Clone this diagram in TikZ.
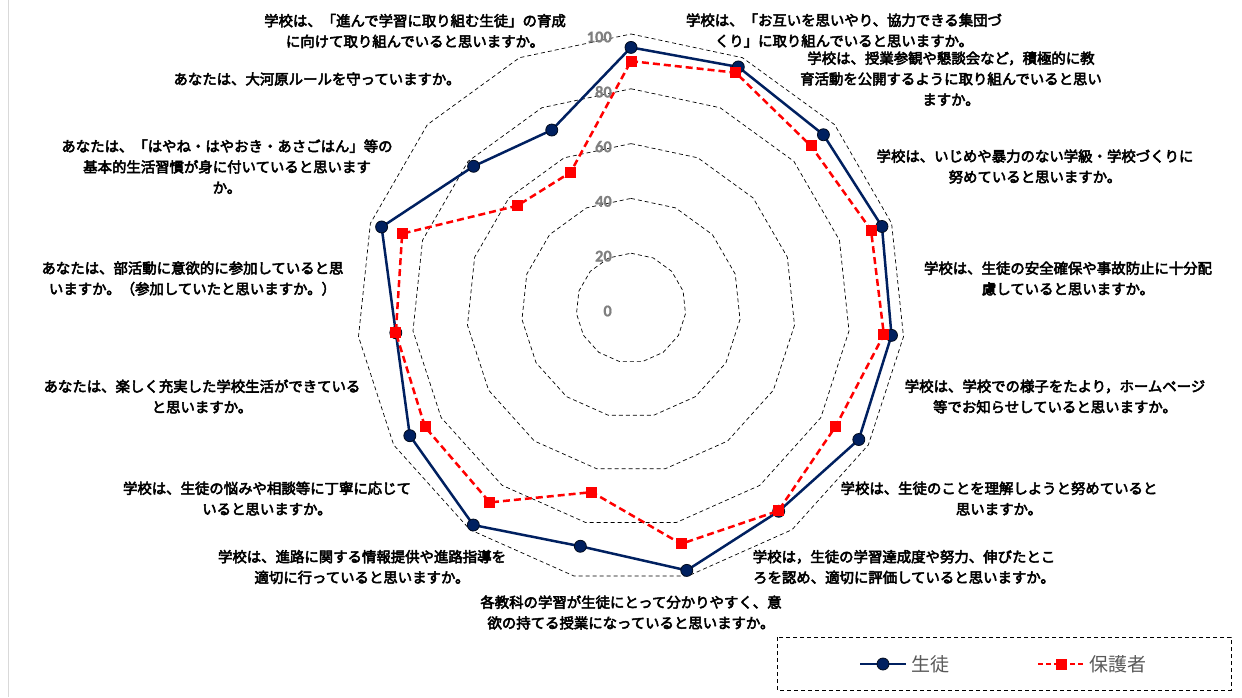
\documentclass[tikz,border=0pt]{standalone}
\usepackage{fontspec}
\newfontfamily\jp{Noto Sans CJK JP}[AutoFakeBold=3.5,BoldFeatures={FakeBold=2}]
\newfontfamily\num{Carlito}[BoldFeatures={FakeBold=0.8}]
\definecolor{navy}{HTML}{002060}
\definecolor{axgray}{HTML}{7F7F7F}
\definecolor{leggray}{HTML}{595959}
\definecolor{edgegray}{HTML}{D9D9D9}
\begin{document}
\begin{tikzpicture}[x=1pt,y=1pt,
  ring/.style={black,line width=0.7pt,dash pattern=on 4pt off 3pt},
  lbl/.style={font=\jp\bfseries\fontsize{14.4}{20.7}\selectfont,align=center,inner sep=0pt},
  tickl/.style={font=\num\bfseries\fontsize{16.5}{16.5}\selectfont,text=axgray,anchor=east,inner sep=0pt},
  student/.style={navy,line width=2.5pt},
  parent/.style={red,line width=2.5pt,dash pattern=on 7pt off 4pt},
  sdot/.style={circle,fill=navy,draw=black!70!navy,line width=0.8pt,inner sep=0pt,minimum size=12pt},
  psq/.style={fill=red,inner sep=0pt,minimum size=11pt},
  leg/.style={font=\jp\fontsize{19}{19}\selectfont,text=leggray,anchor=west,inner sep=0pt}]
\useasboundingbox (-631,-389) rectangle (611,308);
\draw[edgegray,line width=1.5pt] (-622.5,-389)--(-622.5,308);
\foreach \v in {20,40,...,100}
  \draw[ring] (90:{\v*2.74}) \foreach \k in {1,...,14}{--({90-24*\k}:{\v*2.74})} --cycle;
\foreach \v in {0,20,...,100}
  \node[tickl] (t\v) at (-19,{\v*2.74-3}) {\v};
\foreach \k/\s/\p in {0/95.1/90.1,1/96.3/94.0,2/94.5/88.4,3/96.3/92.1,4/95.6/92.8,
  5/96.0/86.3,6/91.7/91.5,7/97.9/88.0,8/88.9/68.7,9/97.9/87.7,10/93.2/86.8,
  11/86.3/86.3,12/95.7/87.8,13/77.3/55.8,14/71.1/54.2}{
  \coordinate (s\k) at ({90-24*\k}:{\s*2.74});
  \coordinate (p\k) at ({90-24*\k}:{\p*2.74});
}
\draw[student] (s0) \foreach \k in {1,...,14}{--(s\k)} --cycle;
\foreach \k in {0,...,14} \node[sdot] (sm\k) at (s\k) {};
\draw[parent] (p0) \foreach \k in {1,...,14}{--(p\k)} --cycle;
\foreach \k in {0,...,14} \node[psq] (pm\k) at (p\k) {};
\node[lbl] (q0) at (213,277.5) {学校は、「お互いを思いやり、協力できる集団づ\\くり」に取り組んでいると思いますか。};
\node[lbl] (q1) at (320,229.3) {学校は、授業参観や懇談会など，積極的に教\\育活動を公開するように取り組んでいると思い\\ますか。};
\node[lbl] (q2) at (404,141.5) {学校は、いじめや暴力のない学級・学校づくりに\\努めていると思いますか。};
\node[lbl] (q3) at (437,29.5) {学校は、生徒の安全確保や事故防止に十分配\\慮していると思いますか。};
\node[lbl] (q4) at (424,-88.5) {学校は、学校での様子をたより，ホームページ\\等でお知らせしていると思いますか。};
\node[lbl] (q5) at (368,-190.5) {学校は、生徒のことを理解しようと努めていると\\思いますか。};
\node[lbl] (q6) at (273,-259) {学校は，生徒の学習達成度や努力、伸びたとこ\\ろを認め、適切に評価していると思いますか。};
\node[lbl] (q7) at (0,-304.5) {各教科の学習が生徒にとって分かりやすく、意\\欲の持てる授業になっていると思いますか。};
\node[lbl] (q8) at (-269,-259) {学校は、進路に関する情報提供や進路指導を\\適切に行っていると思いますか。};
\node[lbl] (q9) at (-364,-190.5) {学校は、生徒の悩みや相談等に丁寧に応じて\\いると思いますか。};
\node[lbl] (q10) at (-429,-88.5) {あなたは、楽しく充実した学校生活ができている\\と思いますか。};
\node[lbl] (q11) at (-438.5,29.5) {あなたは、部活動に意欲的に参加していると思\\いますか。（参加していたと思いますか。）};
\node[lbl] (q12) at (-404,141.3) {あなたは、「はやね・はやおき・あさごはん」等の\\基本的生活習慣が身に付いていると思います\\か。};
\node[lbl] (q13) at (-314,229) {あなたは、大河原ルールを守っていますか。};
\node[lbl] (q14) at (-216,277) {学校は、「進んで学習に取り組む生徒」の育成\\に向けて取り組んでいると思いますか。};
\draw[black,line width=0.9pt,dash pattern=on 4pt off 3pt] (146,-329) rectangle (600,-382);
\coordinate (sa) at (229,-356);
\coordinate (sb) at (275,-356);
\draw[student,line width=2pt] (sa)--(sb);
\node[sdot] (sl) at (252,-356) {};
\node[leg] (st) at (280,-356) {生徒};
\coordinate (pa) at (407,-356);
\coordinate (pb) at (453,-356);
\draw[parent,line width=2pt,dash pattern=on 5pt off 3pt] (pa)--(pb);
\node[psq] (pl) at (430,-356) {};
\node[leg] (pt) at (458,-356) {保護者};
\end{tikzpicture}
\end{document}
